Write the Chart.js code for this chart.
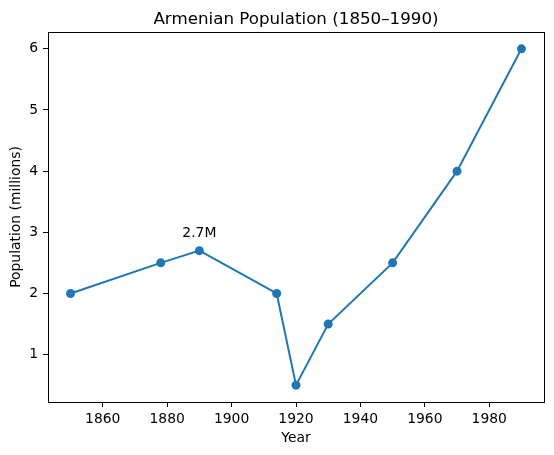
<!DOCTYPE html>
<html>
<head>
<meta charset="utf-8">
<script src="https://cdn.jsdelivr.net/npm/chart.js@4"></script>
<style>
    html, body { margin: 0; padding: 0; background: #ffffff; }
    #wrap { width: 554px; height: 455px; }
</style>
</head>
<body>
<div id="wrap"><canvas id="popChart" width="554" height="455"></canvas></div>
<script>
// Data
const years = [1850, 1878, 1890, 1914, 1920, 1930, 1950, 1970, 1990];
const population = [2.0, 2.5, 2.7, 2.0, 0.5, 1.5, 2.5, 4.0, 6.0];
const xTicks = [1860, 1880, 1900, 1920, 1940, 1960, 1980];
const yTicks = [1, 2, 3, 4, 5, 6];
const noteYear = 1890;
const noteValue = 2.7;
const noteText = '2.7M';
const chartTitle = 'Armenian Population (1850–1990)';

const FONT = "'DejaVu Sans', sans-serif";
const LINE_BLUE = '#1f77b4';

// matplotlib-ish 5% margins around the data
const xMin = 1843, xMax = 1997;
const yMin = 0.225, yMax = 6.275;

/* --- frame on all four sides + title centred over the plot area --- */
const framePlugin = {
    id: 'frame',
    afterDraw(chart) {
        const a = chart.chartArea;
        const ctx = chart.ctx;
        ctx.save();
        ctx.strokeStyle = '#000000';
        ctx.lineWidth = 1;
        ctx.strokeRect(Math.round(a.left) + 0.5, Math.round(a.top) + 0.5,
            Math.round(a.right - a.left), Math.round(a.bottom - a.top));

        ctx.font = '16.7px ' + FONT;
        ctx.fillStyle = '#000000';
        ctx.textAlign = 'center';
        ctx.textBaseline = 'alphabetic';
        ctx.fillText(chartTitle, (a.left + a.right) / 2, a.top - 8);
        ctx.restore();
    }
};

/* --- text note above the peak --- */
const notePlugin = {
    id: 'note',
    afterDatasetsDraw(chart) {
        const x = chart.scales.x.getPixelForValue(noteYear);
        const y = chart.scales.y.getPixelForValue(noteValue);
        const ctx = chart.ctx;
        ctx.save();
        ctx.font = '13.9px ' + FONT;
        ctx.fillStyle = '#000000';
        ctx.textAlign = 'center';
        ctx.textBaseline = 'alphabetic';
        ctx.fillText(noteText, x, y - 14);
        ctx.restore();
    }
};

const points = years.map((yr, i) => ({ x: yr, y: population[i] }));

new Chart(document.getElementById('popChart').getContext('2d'), {
    type: 'line',
    data: {
        datasets: [{
            data: points,
            borderColor: LINE_BLUE,
            backgroundColor: LINE_BLUE,
            borderWidth: 2,
            pointRadius: 4.5,
            pointBorderWidth: 0,
            pointBackgroundColor: LINE_BLUE,
            tension: 0
        }]
    },
    options: {
        responsive: false,
        devicePixelRatio: 1,
        animation: false,
        layout: { padding: { left: 0, right: 10, top: 32, bottom: 0 } },
        plugins: {
            legend: { display: false },
            tooltip: { enabled: false },
            title: { display: false }
        },
        scales: {
            x: {
                type: 'linear',
                min: xMin,
                max: xMax,
                afterBuildTicks: (scale) => { scale.ticks = xTicks.map(v => ({ value: v })); },
                afterFit: (scale) => { scale.height = 53; },
                grid: { drawOnChartArea: false, drawTicks: true, tickLength: 5, tickColor: '#000000' },
                border: { display: true, color: '#000000' },
                ticks: {
                    color: '#000000',
                    font: { family: FONT, size: 13.9 },
                    padding: 4,
                    maxRotation: 0,
                    callback: (v) => String(v)
                },
                title: {
                    display: true,
                    text: 'Year',
                    color: '#000000',
                    font: { family: FONT, size: 13.9 },
                    padding: { top: 0, bottom: 8 }
                }
            },
            y: {
                type: 'linear',
                min: yMin,
                max: yMax,
                afterBuildTicks: (scale) => { scale.ticks = yTicks.map(v => ({ value: v })); },
                afterFit: (scale) => { scale.width = 48; },
                grid: { drawOnChartArea: false, drawTicks: true, tickLength: 5, tickColor: '#000000' },
                border: { display: true, color: '#000000' },
                ticks: {
                    color: '#000000',
                    font: { family: FONT, size: 13.9 },
                    padding: 5,
                    callback: (v) => String(v)
                },
                title: {
                    display: true,
                    text: 'Population (millions)',
                    color: '#000000',
                    font: { family: FONT, size: 13.9 },
                    padding: { top: 8, bottom: 0 }
                }
            }
        }
    },
    plugins: [framePlugin, notePlugin]
});
</script>
</body>
</html>
